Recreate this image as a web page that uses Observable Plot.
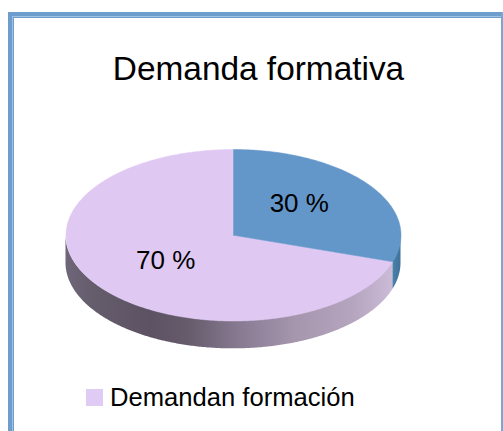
<!DOCTYPE html>
<html lang="es">
<head>
<meta charset="utf-8">
<script src="https://cdn.jsdelivr.net/npm/d3@7"></script>
<script src="https://cdn.jsdelivr.net/npm/@observablehq/plot@0.6"></script>
<style>
  html, body { margin: 0; padding: 0; width: 503px; height: 431px; overflow: hidden; background: #fff; font-family: "Liberation Sans", sans-serif; color: #000; }
  #frame { position: absolute; left: 8px; top: 12px; width: 495px; height: 430px; box-sizing: border-box;
           border: 4px solid #6c9dcd; border-bottom: 0; border-right: 0; }
  #frame::before { content: ""; position: absolute; left: 0; top: 0; right: 0; bottom: 0;
           border: 1px solid #a2c1e0; border-bottom: 0; border-right: 0; }
  #frame::after { content: ""; position: absolute; left: 1px; top: 1px; right: 0; bottom: 0;
           border: 1px solid #6c9dcd; border-bottom: 0; border-right: 0; }
  #rightedge { position: absolute; left: 501px; top: 12px; width: 2px; height: 419px; background: #7ba7d3; }
  #title { position: absolute; left: 13px; width: 491px; top: 48px; text-align: center; font-size: 33.4px; line-height: 42px; white-space: nowrap; }
  #chart { position: absolute; left: 0; top: 130px; }
  #legend { position: absolute; left: 86px; top: 382px; height: 30px; display: flex; align-items: center; font-size: 25.6px; white-space: nowrap; }
  #legend i { display: block; width: 17px; height: 17px; margin-right: 7px; }
</style>
</head>
<body>
<div id="frame"></div>
<div id="rightedge"></div>
<div id="title"></div>
<div id="chart"></div>
<div id="legend"></div>
<script>
const chartTitle = "Demanda formativa";
const shares = [30, 70];
const sliceColors = ["#6497c9", "#dfc9f3"];
const legendLabels = ["Demandan formación"];
const legendColors = ["#e0cbf5"];

const wallDepth = 0.325;   // wall height, in units of the vertical radius
const total = d3.sum(shares);
const cuts = d3.cumsum([0, ...shares]).map(v => v / total * 2 * Math.PI);

// Sample an arc of the unit circle (0 = top, clockwise)
function arc(a0, a1) {
  const n = Math.ceil(Math.abs(a1 - a0) / 0.01);
  return d3.range(n + 1).map(i => {
    const a = a0 + (a1 - a0) * i / n;
    return {x: Math.sin(a), y: Math.cos(a)};
  });
}
const slice = i => [{x: 0, y: 0}, ...arc(cuts[i], cuts[i + 1]), {x: 0, y: 0}];
const wall = (a0, a1) => arc(a0, a1).map(p => ({x: p.x, top: p.y, bottom: p.y - wallDepth}));
const labels = shares.map((v, i) => {
  const mid = (cuts[i] + cuts[i + 1]) / 2;
  return {x: 0.5 * Math.sin(mid), y: 0.5 * Math.cos(mid), text: `${v} %`};
});

const gradient = (id, stops) => () => {
  const ns = "http://www.w3.org/2000/svg";
  const defs = document.createElementNS(ns, "defs");
  const g = document.createElementNS(ns, "linearGradient");
  g.setAttribute("id", id);
  for (const [o, c] of stops) {
    const s = document.createElementNS(ns, "stop");
    s.setAttribute("offset", o);
    s.setAttribute("stop-color", c);
    g.appendChild(s);
  }
  defs.appendChild(g);
  return defs;
};

const plot = Plot.plot({
  width: 503,
  height: 230,
  margin: 0,
  style: {background: "transparent", overflow: "visible"},
  x: {domain: [-1, 1], range: [65.5, 400.5], axis: null},
  y: {domain: [-1, 1], range: [190.5, 19], axis: null},
  marks: [
    gradient("wallPurple", [[0, "#6f667a"], [0.08, "#655c6c"], [0.26, "#5c5263"], [0.38, "#665c6c"], [0.52, "#85788f"], [0.7, "#a596ae"], [0.88, "#b5a5be"], [1, "#cbbbd8"]]),
    gradient("wallBlue", [[0, "#4d82ab"], [1, "#3f7099"]]),
    Plot.areaY(wall(Math.PI / 2, cuts[1]), {x: "x", y1: "top", y2: "bottom", fill: "url(#wallBlue)"}),
    Plot.areaY(wall(cuts[1], 3 * Math.PI / 2), {x: "x", y1: "top", y2: "bottom", fill: "url(#wallPurple)"}),
    Plot.line(slice(1), {x: "x", y: "y", fill: sliceColors[1], stroke: sliceColors[1], strokeWidth: 0.5}),
    Plot.line(slice(0), {x: "x", y: "y", fill: sliceColors[0], stroke: sliceColors[0], strokeWidth: 0.5}),
    Plot.text(labels.slice(0, 1), {x: "x", y: "y", text: "text", dx: -2, dy: -6, fontSize: 26, fontFamily: "Liberation Sans", fill: "#000"}),
    Plot.text(labels.slice(1), {x: "x", y: "y", text: "text", fontSize: 26, fontFamily: "Liberation Sans", fill: "#000"})
  ]
});
document.getElementById("chart").appendChild(plot);
document.getElementById("title").textContent = chartTitle;
const legend = document.getElementById("legend");
legendLabels.forEach((t, i) => {
  const sw = document.createElement("i");
  sw.style.background = legendColors[i];
  const sp = document.createElement("span");
  sp.textContent = t;
  legend.append(sw, sp);
});
</script>
</body>
</html>
